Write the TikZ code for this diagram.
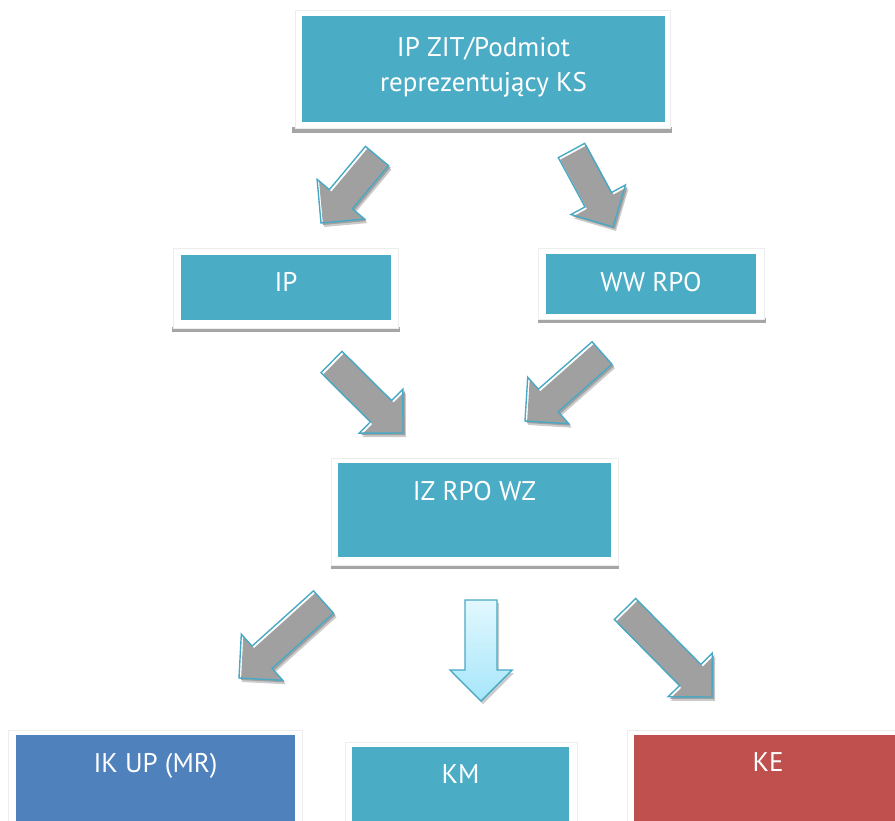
\documentclass[tikz,border=0pt]{standalone}
\usepackage{fontspec}
\setmainfont{PT Sans}
\usetikzlibrary{calc}

\definecolor{tealbox}{HTML}{4BACC6}
\definecolor{bluebox}{HTML}{4F81BD}
\definecolor{redbox}{HTML}{C0504D}
\definecolor{arrowgray}{HTML}{A0A0A0}
\definecolor{barshadow}{HTML}{A5A5A5}
\definecolor{rimcolor}{HTML}{48A9C5}
\definecolor{kmtop}{HTML}{E2F8FE}
\definecolor{kmbot}{HTML}{A6E6FA}

\tikzset{
  frame/.style={fill=white, draw=black!7, line width=0.8pt},
  bar/.style={fill=barshadow, draw=none},
  box/.style={draw=none, inner sep=0pt, outer sep=0pt},
  caption/.style={text=white, anchor=base, inner sep=0pt,
    font=\fontsize{27}{35}\selectfont},
  arrowshadow/.style={fill=black!45, opacity=0.45,
    transform canvas={xshift=3pt, yshift=-4pt}},
  arrowbody/.style={fill=arrowgray,
    transform canvas={xshift=2pt, yshift=-2pt}},
  arrowrim/.style={draw=rimcolor, line width=1.4pt, line join=miter},
}

% block arrow: #1 name, #2 tail centre, #3 tip
\newcommand\blockarrow[3]{%
  \coordinate (#1-t) at #2;
  \coordinate (#1-p) at #3;
  \coordinate (#1-h) at ($(#1-p)!31pt!(#1-t)$);
  \foreach \sty in {arrowshadow, arrowbody, arrowrim}{
    \path[\sty]
      ($(#1-t)!15pt!90:(#1-p)$) -- ($(#1-h)!15pt!90:(#1-p)$)
      -- ($(#1-h)!31pt!90:(#1-p)$) -- (#1-p)
      -- ($(#1-h)!31pt!-90:(#1-p)$) -- ($(#1-h)!15pt!-90:(#1-p)$)
      -- ($(#1-t)!15pt!-90:(#1-p)$) -- cycle;
  }
}

\begin{document}
\begin{tikzpicture}[x=1pt, y=-1pt]
\useasboundingbox (0,0) rectangle (895,820);
\clip (0,0) rectangle (895,820);

% ---- top box
\fill[bar] (292,127) rectangle (672,133);
\path[frame] (295,10) rectangle (670,128);
\node[box, fill=tealbox, minimum width=363pt, minimum height=106pt] (top) at (483.5,69) {};
\node[caption] (toptxt1) at (483.5,56) {IP ZIT/Podmiot};
\node[caption] (toptxt2) at (483.5,91) {reprezentujący KS};

% ---- second row
\fill[bar] (172,327) rectangle (400,332);
\path[frame] (173,248) rectangle (398,328);
\node[box, fill=tealbox, minimum width=210pt, minimum height=65pt] (ip) at (286,287.5) {};
\node[caption] (iptxt) at (286,291) {IP};

\fill[bar] (538,318) rectangle (766,323);
\path[frame] (538,248) rectangle (764,319);
\node[box, fill=tealbox, minimum width=210pt, minimum height=60pt] (ww) at (651,284) {};
\node[caption] (wwtxt) at (651,291) {WW RPO};

% ---- third row
\fill[bar] (331,564) rectangle (619,569);
\path[frame] (331,458) rectangle (618,565);
\node[box, fill=tealbox, minimum width=273pt, minimum height=94pt] (iz) at (474.5,510) {};
\node[caption] (iztxt) at (474.5,500) {IZ RPO WZ};

% ---- bottom row
\path[frame] (8,730) rectangle (302,830);
\node[box, fill=bluebox, minimum width=279pt, minimum height=100pt] (ik) at (155.5,785) {};
\node[caption] (iktxt) at (155.5,772) {IK UP (MR)};

\path[frame] (345,742) rectangle (577,830);
\node[box, fill=tealbox, minimum width=217pt, minimum height=90pt] (km) at (460.5,792) {};
\node[caption] (kmtxt) at (460.5,783) {KM};

\path[frame] (627,730) rectangle (905,830);
\node[box, fill=redbox, minimum width=271pt, minimum height=100pt] (ke) at (769.5,785) {};
\node[caption] (ketxt) at (768,771) {KE};

% ---- grey block arrows
\blockarrow{a1}{(377,156)}{(321,223)}
\blockarrow{a2}{(571.5,150.5)}{(613,227)}
\blockarrow{a3}{(331.5,362)}{(403,433)}
\blockarrow{a4}{(602,353)}{(525,421)}
\blockarrow{a5}{(323.5,602)}{(239,678)}
\blockarrow{a7}{(625,609)}{(712,697)}

% ---- light blue arrow down to KM
\coordinate (kmA-t) at (481,600);
\coordinate (kmA-p) at (481,701);
\fill[black!45, opacity=0.45, transform canvas={xshift=2pt, yshift=-3pt}]
  (465,600) -- (465,670) -- (450,670) -- (kmA-p) -- (512,670) -- (497,670) -- (497,600) -- cycle;
\shade[top color=kmtop, bottom color=kmbot, draw=rimcolor, line width=1.4pt]
  (465,600) -- (465,670) -- (450,670) -- (kmA-p) -- (512,670) -- (497,670) -- (497,600) -- cycle;
\end{tikzpicture}
\end{document}
